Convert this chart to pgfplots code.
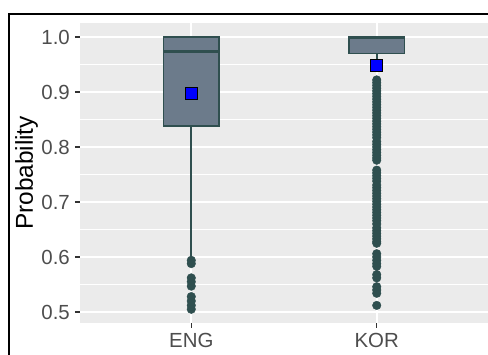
\documentclass[border=0pt]{standalone}
\usepackage{pgfplots}
\pgfplotsset{compat=1.18}
\usepgfplotslibrary{statistics}
\usepackage{fontspec}
\setmainfont{Liberation Sans}
\definecolor{panelbg}{HTML}{EBEBEB}
\definecolor{boxfill}{HTML}{6C7B8B}
\definecolor{dsg}{HTML}{2F4F4F}
\definecolor{ticklab}{HTML}{4D4D4D}
\definecolor{tickgrey}{HTML}{333333}
\begin{document}
\begin{tikzpicture}
\path[use as bounding box] (0,0) rectangle (488bp,355bp);
\begin{axis}[
  at={(80bp,32bp)}, anchor=south west,
  scale only axis, width=408bp, height=300bp,
  xmin=0.4, xmax=2.6, ymin=0.48, ymax=1.0255,
  axis background/.style={fill=panelbg},
  axis line style={draw=none},
  xtick={1,2}, xticklabels={ENG,KOR},
  ytick={0.5,0.6,0.7,0.8,0.9,1.0}, yticklabels={0.5,0.6,0.7,0.8,0.9,1.0},
  minor ytick={0.55,0.65,0.75,0.85,0.95},
  grid=both,
  major grid style={white, line width=1.8bp},
  minor grid style={white, line width=0.9bp},
  tick align=outside, major tick length=5bp, minor tick length=0pt,
  xtick pos=bottom, ytick pos=left,
  tick style={draw=tickgrey, line width=1.1bp},
  ticklabel style={font=\fontsize{20.5}{24}\selectfont, text=ticklab},
  yticklabel style={inner sep=0pt, anchor=east, xshift=-5bp},
  xticklabel style={inner sep=0pt, anchor=north, yshift=-5bp},
  ylabel={Probability},
  ylabel style={at={(axis description cs:-0.131,0.5)}, anchor=center, inner sep=0pt, font=\fontsize{24.5}{28}\selectfont},
  boxplot/draw direction=y,
  clip=false,
]
% whiskers
\addplot[dsg, line width=1.6bp] coordinates {(1,0.598) (1,0.838)};
\addplot[dsg, line width=1.6bp] coordinates {(2,0.955) (2,0.970)};
\addplot[draw=dsg, fill=boxfill, line width=1.5bp,
  boxplot prepared={draw position=1, lower whisker=0.838, lower quartile=0.838,
    median=0.973, upper quartile=1.0, upper whisker=1.0, box extend=0.3, whisker extend=0,
    every median/.style={line width=3bp}}]
  coordinates {};
\addplot[draw=dsg, fill=boxfill, line width=1.5bp,
  boxplot prepared={draw position=2, lower whisker=0.970, lower quartile=0.970,
    median=0.999, upper quartile=1.0, upper whisker=1.0, box extend=0.3, whisker extend=0,
    every median/.style={line width=3bp}}]
  coordinates {};
% ENG outliers
\addplot[only marks, mark=*, mark size=4.3bp, color=dsg] coordinates {
(1,0.594) (1,0.588) (1,0.562) (1,0.555) (1,0.547) (1,0.528) (1,0.520) (1,0.512) (1,0.505)
};
% KOR outliers
\addplot[only marks, mark=*, mark size=4.3bp, color=dsg] coordinates {
(2,0.922) (2,0.917) (2,0.912) (2,0.907) (2,0.902) (2,0.897) (2,0.892) (2,0.887)
(2,0.882) (2,0.877) (2,0.872) (2,0.867) (2,0.862) (2,0.857) (2,0.852) (2,0.847)
(2,0.842) (2,0.837) (2,0.832) (2,0.827) (2,0.822) (2,0.817) (2,0.810) (2,0.805)
(2,0.800) (2,0.795) (2,0.790) (2,0.785) (2,0.780) (2,0.776)
(2,0.758) (2,0.753) (2,0.748) (2,0.743) (2,0.738) (2,0.731) (2,0.726) (2,0.721)
(2,0.716) (2,0.711) (2,0.706) (2,0.701) (2,0.696) (2,0.691) (2,0.686) (2,0.681)
(2,0.676) (2,0.671) (2,0.666) (2,0.660) (2,0.653) (2,0.648) (2,0.643) (2,0.638)
(2,0.633) (2,0.628) (2,0.625)
(2,0.606) (2,0.600) (2,0.594) (2,0.588) (2,0.583)
(2,0.568) (2,0.562)
(2,0.546) (2,0.540) (2,0.534)
(2,0.512)
};
% means
\addplot[only marks, mark=square*, mark size=6bp, mark options={fill=blue, draw=black, line width=0.8bp}] coordinates {
(1,0.898) (2,0.949)
};
\end{axis}
\draw[black, line width=1.2bp] (9bp,-2bp) -- (9bp,341bp) -- (490bp,341bp);
\end{tikzpicture}
\end{document}
